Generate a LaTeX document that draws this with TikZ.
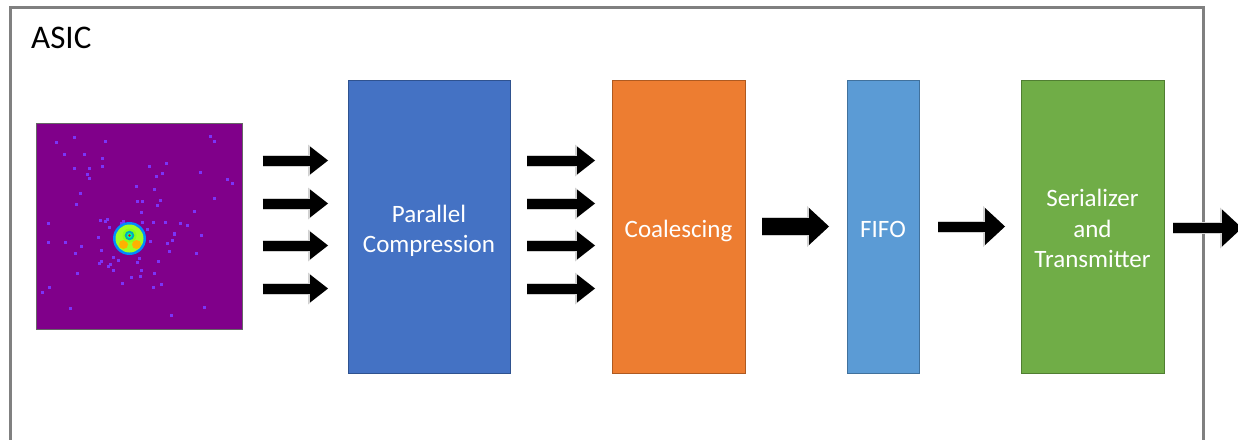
\documentclass[tikz,border=0pt]{standalone}
\usepackage{fontspec}
\setmainfont{Carlito}
\usepackage{xcolor}
\usetikzlibrary{positioning,arrows.meta,calc}

\definecolor{pcblue}{HTML}{4472C4}
\definecolor{pcline}{HTML}{2F528F}
\definecolor{coalorange}{HTML}{ED7D31}
\definecolor{coalline}{HTML}{AE5A21}
\definecolor{fifoblue}{HTML}{5B9BD5}
\definecolor{fifoline}{HTML}{41719C}
\definecolor{sergreen}{HTML}{70AD47}
\definecolor{serline}{HTML}{507E32}
\definecolor{detpurple}{HTML}{80008A}
\definecolor{detdot}{HTML}{7A34F8}

\begin{document}
\begin{tikzpicture}[x=1pt, y=-1pt,
    block/.style={rectangle, draw, line width=1pt, minimum width=#1, text width=#1, minimum height=293pt, align=center, text=white, inner sep=0pt, outer sep=0pt, font=\fontsize{25}{30.5}\selectfont,
        execute at begin node={\rule{0pt}{28.6pt}}, execute at end node={\rule[-7pt]{0pt}{0pt}}},
    frame/.style={draw=black!50, line width=3pt},
    dot/.style={fill=detdot},
    thinarrow/.style={line width=10pt, -{Triangle[length=18pt, width=28pt, line width=0pt]},
        preaction={draw=black!18, line width=12pt, -{Triangle[length=20pt, width=32pt, line width=0pt]}}},
    widearrow/.style={line width=10pt, -{Triangle[length=20pt, width=37pt, line width=0pt]},
        preaction={draw=black!18, line width=12pt, -{Triangle[length=22pt, width=41pt, line width=0pt]}}},
    fatarrow/.style={line width=17pt, -{Triangle[length=20pt, width=37pt, line width=0pt]},
        preaction={draw=black!18, line width=19pt, -{Triangle[length=22pt, width=41pt, line width=0pt]}}}]
    \useasboundingbox (0,0) rectangle (1238,439);

    % ASIC frame (open at the bottom)
    \draw[frame] (10,460) -- (10,7) -- (1203,7) -- (1203,460);
    \node[anchor=base west, inner sep=0pt, font=\fontsize{33}{40}\selectfont] (asic) at (31,48) {ASIC};

    % Detector image
    \node[rectangle, draw=black!60, line width=0.6pt, fill=detpurple, minimum size=206pt, inner sep=0pt, outer sep=0pt] (det) at (139.5,226.5) {};
    \begin{scope}[shift={(det.north west)}]
        \pgfmathsetseed{11}
        \foreach \i in {1,...,55}{
            \pgfmathsetmacro\px{3+198*rnd}
            \pgfmathsetmacro\py{3+198*rnd}
            \fill[dot] (\px,\py) rectangle ++(3,3);
        }
        \foreach \i in {1,...,26}{
            \pgfmathsetmacro\ang{360*rnd}
            \pgfmathsetmacro\rad{19+26*rnd}
            \fill[dot] ($(93,115)+(\ang:\rad)$) rectangle ++(3,3);
        }
        % bright spot
        \fill[blue!45!cyan] (93,115) circle (16.5);
        \fill[green!45!yellow!85!white] (93,115) circle (14);
        \fill[orange!60!yellow] (87,121) circle (4.5);
        \fill[orange!60!yellow] (100,121) circle (4.5);
        \fill[green!50!yellow!90!white] (93,112) circle (7);
        \fill[cyan!70!green] (93,112) circle (4.8);
        \fill[green!40!cyan] (93,112) circle (2.6);
        \fill[red] (93,112) circle (1.4);
    \end{scope}

    % Processing blocks
    \node[block=162pt, fill=pcblue, draw=pcline, right=105.5pt of det] (pc) {Parallel\\Compression};
    \node[block=133pt, fill=coalorange, draw=coalline, right=102pt of pc] (coal) {Coalescing};
    \node[block=72pt, fill=fifoblue, draw=fifoline, right=102pt of coal] (fifo) {FIFO};
    \node[block=143pt, fill=sergreen, draw=serline, right=102pt of fifo] (ser) {Serializer\\and\\Transmitter};
    \coordinate (out) at ($(ser.east)+(78,1.5)$);

    % Parallel lanes
    \foreach \dy in {-66,-23,19,62}{
        \draw[thinarrow, shorten <=20pt, shorten >=20pt] ($(det.east)+(0,\dy)$) -- ($(pc.west)+(0,\dy)$);
        \draw[thinarrow, shorten <=17pt, shorten >=17pt] ($(pc.east)+(0,\dy)$) -- ($(coal.west)+(0,\dy)$);
    }

    % Serial path
    \draw[fatarrow, shorten <=17pt, shorten >=18pt] (coal.east) -- (fifo.west);
    \draw[widearrow, shorten <=19pt, shorten >=16pt] (fifo.east) -- (ser.west);
    \draw[widearrow, shorten <=9pt] (ser.east |- out) -- (out);

\end{tikzpicture}
\end{document}
